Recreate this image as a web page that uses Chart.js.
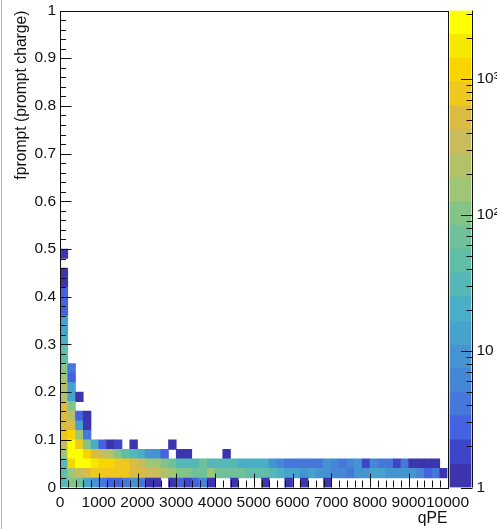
<!DOCTYPE html>
<html>
<head>
<meta charset="utf-8">
<script src="https://cdn.jsdelivr.net/npm/chart.js@4"></script>
<style>
  html, body { margin: 0; padding: 0; background: #fff; overflow: hidden; }
  #wrap { position: relative; width: 497px; height: 529px; }
  #wrap canvas { position: absolute; top: 0; }
  #edge { position: absolute; left: 1px; top: 0; width: 1px; height: 529px; background: #b4b4b4; }
</style>
</head>
<body>
<div id="wrap">
  <canvas id="main" width="497" height="529" style="left:0"></canvas>
  <canvas id="palette" width="48" height="529" style="left:449px"></canvas>
  <div id="edge"></div>
</div>
<script>
// x bins: lower edge of each qPE bin
const xBins = [0,200,400,600,800,1000,1200,1400,1600,1800,2000,2200,2400,2600,2800,3000,3200,3400,3600,3800,
  4000,4200,4400,4600,4800,5000,5200,5400,5600,5800,6000,6200,6400,6600,6800,7000,7200,7400,7600,7800,
  8000,8200,8400,8600,8800,9000,9200,9400,9600,9800];

// y bins: lower edge of each fprompt bin, same order as binCounts
const yBins = [0,0.02,0.04,0.06,0.08,0.1,0.12,0.14,0.16,0.18,0.2,0.22,0.24,0.26,0.28,0.3,0.32,0.34,0.36,0.38,0.4,0.42,0.44,0.46,0.48];
const yBinWidth = 0.02;

// counts per cell. one row per y bin, short rows are empty to the right
const binCounts = [
  [28,85,60,13,9,4,3,3,4,9,4,1,1,0,1,3,2,3,6,1,0,0,1,0,0,0,1,0,0,1,0,1,0,0,1],
  [40,130,320,450,650,650,650,650,650,450,450,320,320,190,130,85,85,60,60,130,60,60,60,60,40,40,40,28,19,13,13,9,13,9,9,6,6,4,9,9,13,13,9,9,9,9,6,3,4,1],
  [28,950,2200,2200,1500,950,950,650,650,450,320,130,130,85,60,28,28,28,60,28,28,28,28,19,19,19,19,9,6,4,4,4,4,4,9,6,4,6,9,2,6,4,4,2,4,1,1,1,1],
  [130,2200,2200,950,450,320,190,85,40,28,19,9,9,3,0,1,1,0,0,0,0,1],
  [320,2200,650,85,19,3,1,2,0,1,0,0,0,0,1],
  [650,950,130,4],
  [450,450,13,1],
  [450,190,3,1],
  [450,85],
  [190,13,1],
  [190,13],
  [130,3],
  [85,4],
  [40],
  [40],
  [19],
  [13],
  [13],
  [3],
  [3],
  [3],
  [1],
  [1],
  [],
  [1]
];

// colour palette, bottom to top, and the z contour edges it sits between
const paletteColors = ['#3d35ae','#3f45c9','#4463e2','#4678dc','#4586d6','#4593d1','#45a3cd','#49aec6',
  '#55b8b6','#60bda8','#70c09a','#85c488','#9ec676','#b5c168','#c8bc5c','#dcbc40','#eec81c','#f9d500','#f7e800','#feff00'];
const zEdges = [1,1.5,2.24,3.35,5.01,7.5,11.2,16.8,25.1,37.6,56.2,84.1,126,188,282,422,631,944,1413,2113,3162];

const xLabelStep = 1000;
const yLabels = { 0:'0', 0.1:'0.1', 0.2:'0.2', 0.3:'0.3', 0.4:'0.4', 0.5:'0.5', 0.6:'0.6', 0.7:'0.7', 0.8:'0.8', 0.9:'0.9', 1:'1' };
const zLabels = { 1:'1', 10:'10', 100:'10\u00b2', 1000:'10\u00b3' };
const zMinorTicks = [2,3,4,5,6,7,8,9,20,30,40,50,60,70,80,90,200,300,400,500,600,700,800,900,2000,3000];

const tickFont = { family: '"Liberation Sans", Arial, sans-serif', size: 15.5 };
const titleFont = { family: '"Liberation Sans", Arial, sans-serif', size: 15.7 };
const inkColor = '#111';

function colorFor(count) {
  let k = 0;
  while (k < paletteColors.length - 1 && count >= zEdges[k + 1]) k++;
  return paletteColors[k];
}

const rowDatasets = yBins.map((lo, r) => {
  const row = binCounts[r];
  return {
    data: xBins.map((_, i) => (row[i] > 0 ? [lo, lo + yBinWidth] : null)),
    backgroundColor: xBins.map((_, i) => (row[i] > 0 ? colorFor(row[i]) : 'rgba(0,0,0,0)')),
    borderWidth: 0,
    grouped: false,
    barPercentage: 1,
    categoryPercentage: 1
  };
});

// ROOT style ticks point into the frame, so draw them by hand off the scales
const insideTicks = {
  id: 'insideTicks',
  afterDatasetsDraw(chart) {
    const { ctx, chartArea: a, scales } = chart;
    ctx.save();
    ctx.strokeStyle = inkColor;
    ctx.lineWidth = 1;
    ctx.beginPath();
    for (let v = 0; v <= 10000; v += 200) {
      const px = Math.round(scales.qpe.getPixelForValue(v)) + 0.5;
      ctx.moveTo(px, a.bottom);
      ctx.lineTo(px, a.bottom - (v % 1000 === 0 ? 14 : 7));
    }
    for (let n = 0; n <= 50; n++) {
      const py = Math.round(scales.y.getPixelForValue(n / 50)) + 0.5;
      ctx.moveTo(a.left, py);
      ctx.lineTo(a.left + (n % 5 === 0 ? 11.5 : 6), py);
    }
    ctx.stroke();
    ctx.strokeRect(Math.round(a.left) + 0.5, Math.round(a.top) + 0.5, Math.round(a.width), Math.round(a.height));
    ctx.restore();
  }
};

new Chart(document.getElementById('main'), {
  type: 'bar',
  data: { labels: xBins, datasets: rowDatasets },
  options: {
    responsive: false,
    animation: false,
    layout: { padding: { top: 10.5, right: 49.5, bottom: 0, left: 0 } },
    plugins: { legend: { display: false }, tooltip: { enabled: false } },
    scales: {
      x: { type: 'category', display: false },
      qpe: {
        type: 'linear', axis: 'x', position: 'bottom', min: 0, max: 10000, offset: false,
        grid: { display: false, drawTicks: false, offset: false },
        border: { display: false },
        ticks: {
          stepSize: xLabelStep, autoSkip: false, maxRotation: 0, padding: 5.5, color: inkColor, font: tickFont,
          callback: (v) => String(v)
        },
        title: { display: true, text: 'qPE', align: 'end', color: inkColor, font: titleFont, padding: { top: 0, bottom: 1 } },
        afterFit(scale) { scale.height = 41.5; scale.paddingLeft = 0; scale.paddingRight = 0; }
      },
      y: {
        type: 'linear', min: 0, max: 1,
        grid: { display: false, drawTicks: false },
        border: { display: false },
        ticks: {
          stepSize: 0.1, autoSkip: false, padding: 4, color: inkColor, font: tickFont,
          callback: (v) => yLabels[Math.round(v * 10) / 10]
        },
        title: { display: true, text: 'fprompt (prompt charge)', align: 'end', color: inkColor, font: titleFont, padding: { top: 12.5, bottom: 0 } },
        afterFit(scale) { scale.width = 60; scale.paddingTop = 0; scale.paddingBottom = 0; }
      }
    }
  },
  plugins: [insideTicks]
});

const paletteTicks = {
  id: 'paletteTicks',
  afterDatasetsDraw(chart) {
    const { ctx, chartArea: a, scales } = chart;
    ctx.save();
    ctx.strokeStyle = inkColor;
    ctx.lineWidth = 1;
    ctx.beginPath();
    const right = Math.round(a.right) + 0.5;
    Object.keys(zLabels).forEach((v) => {
      const py = Math.round(scales.y.getPixelForValue(+v)) + 0.5;
      ctx.moveTo(right, py);
      ctx.lineTo(right - 11.5, py);
    });
    zMinorTicks.forEach((v) => {
      const py = Math.round(scales.y.getPixelForValue(v)) + 0.5;
      ctx.moveTo(right, py);
      ctx.lineTo(right - 6, py);
    });
    ctx.moveTo(right, a.top);
    ctx.lineTo(right, a.bottom);
    ctx.stroke();
    ctx.restore();
  }
};

new Chart(document.getElementById('palette'), {
  type: 'bar',
  data: {
    labels: ['z'],
    datasets: paletteColors.map((c, k) => ({
      data: [[zEdges[k], zEdges[k + 1]]],
      backgroundColor: c,
      borderWidth: 0,
      grouped: false,
      barPercentage: 1,
      categoryPercentage: 1
    }))
  },
  options: {
    responsive: false,
    animation: false,
    layout: { padding: { top: 10.5, right: 0, bottom: 41.5, left: 0.5 } },
    plugins: { legend: { display: false }, tooltip: { enabled: false } },
    scales: {
      x: { type: 'category', display: false },
      y: {
        type: 'logarithmic', position: 'right', min: 1, max: 3162,
        grid: { display: false, drawTicks: false },
        border: { display: false },
        afterBuildTicks(scale) { scale.ticks = Object.keys(zLabels).map((v) => ({ value: +v })); },
        ticks: {
          autoSkip: false, padding: 5, color: inkColor, font: tickFont,
          callback: (v) => zLabels[v]
        },
        afterFit(scale) { scale.width = 25.5; scale.paddingTop = 0; scale.paddingBottom = 0; }
      }
    }
  },
  plugins: [paletteTicks]
});
</script>
</body>
</html>
